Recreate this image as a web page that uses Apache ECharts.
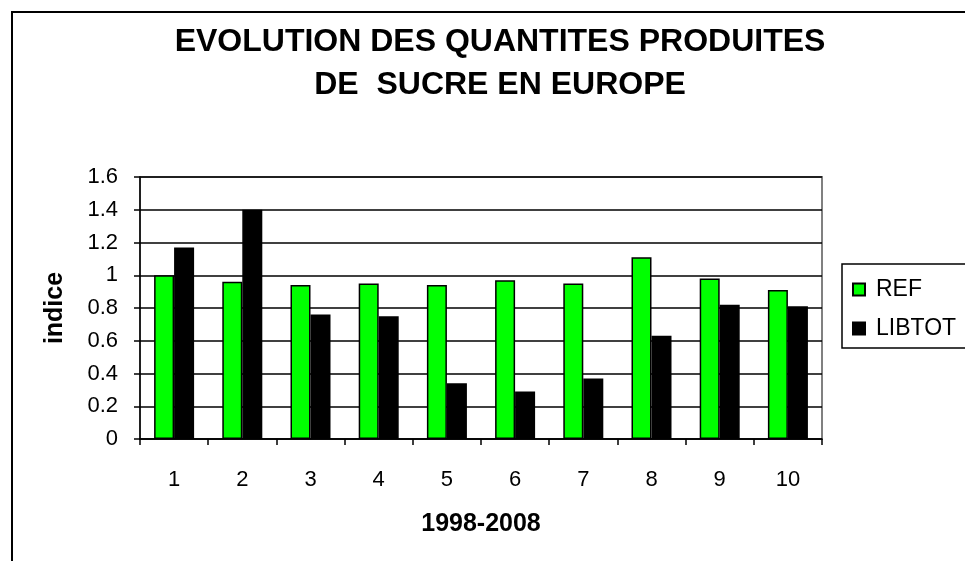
<!DOCTYPE html>
<html lang="fr">
<head>
    <meta charset="UTF-8">
    <title>Sucre Europe</title>
    <script type="text/javascript" src="https://cdn.jsdelivr.net/npm/echarts@6/dist/echarts.min.js"></script>
    <style>
        body { margin: 0; background: #fff; }
    </style>
</head>
<body>
<div id="main" style="width:965px;height:561px;"></div>
<script>
    // donnees
    const years = ['1', '2', '3', '4', '5', '6', '7', '8', '9', '10'];
    const refValues = [1.00, 0.96, 0.94, 0.95, 0.94, 0.97, 0.95, 1.11, 0.98, 0.91];
    const libtotValues = [1.17, 1.40, 0.76, 0.75, 0.34, 0.29, 0.37, 0.63, 0.82, 0.81];

    const font = '"Liberation Sans", Arial, sans-serif';
    let myChart = echarts.init(document.getElementById('main'));

    let option = {
        backgroundColor: '#fff',
        animation: false,
        textStyle: { fontFamily: font },
        title: {
            text: 'EVOLUTION DES QUANTITES PRODUITES\nDE  SUCRE EN EUROPE',
            left: 495,
            textAlign: 'center',
            top: 16,
            textStyle: {
                color: '#000',
                fontSize: 32,
                fontWeight: 'bold',
                lineHeight: 43,
                fontFamily: font
            }
        },
        graphic: [{
            type: 'rect',
            shape: { x: 12, y: 12, width: 1000, height: 600 },
            style: { fill: 'none', stroke: '#000', lineWidth: 2 },
            silent: true
        }],
        legend: {
            orient: 'vertical',
            left: 842,
            top: 264,
            padding: [14, 30, 8, 10],
            itemGap: 16,
            itemWidth: 12,
            itemHeight: 12,
            icon: 'rect',
            borderColor: '#000',
            borderWidth: 1.5,
            textStyle: { color: '#000', fontSize: 23, fontFamily: font, padding: [0, 0, 0, 6] },
            data: ['REF', 'LIBTOT']
        },
        grid: {
            left: 140,
            right: 143,
            top: 177,
            bottom: 122,
            show: true,
            borderColor: '#808080',
            borderWidth: 2,
            containLabel: false
        },
        xAxis: {
            type: 'category',
            data: years,
            name: '1998-2008',
            nameLocation: 'middle',
            nameGap: 73,
            nameTextStyle: { color: '#000', fontSize: 25, fontWeight: 'bold', fontFamily: font },
            axisLine: { lineStyle: { color: '#000', width: 1.5 } },
            axisTick: { show: true, length: 6, lineStyle: { color: '#000', width: 1.5 } },
            axisLabel: { color: '#000', fontSize: 22, margin: 30, fontFamily: font },
            splitLine: { show: false }
        },
        yAxis: {
            type: 'value',
            min: 0,
            max: 1.6,
            interval: 0.2,
            name: 'indice',
            nameLocation: 'middle',
            nameGap: 72,
            nameRotate: 90,
            nameTextStyle: { color: '#000', fontSize: 25, fontWeight: 'bold', fontFamily: font },
            axisLine: { show: true, lineStyle: { color: '#000', width: 1.5 } },
            axisTick: { show: true, length: 6, lineStyle: { color: '#000', width: 1.5 } },
            axisLabel: {
                color: '#000',
                fontSize: 22,
                margin: 22,
                fontFamily: font,
                formatter: v => String(Math.round(v * 10) / 10)
            },
            splitLine: { show: true, lineStyle: { color: '#000', width: 1.5 } }
        },
        series: [
            {
                name: 'REF',
                type: 'bar',
                data: refValues,
                barWidth: 20,
                barGap: '0%',
                itemStyle: { color: '#00ff00', borderColor: '#000', borderWidth: 1.5 }
            },
            {
                name: 'LIBTOT',
                type: 'bar',
                data: libtotValues,
                barWidth: 20,
                barGap: '0%',
                itemStyle: { color: '#000', borderColor: '#000', borderWidth: 1.5 }
            }
        ]
    };

    myChart.setOption(option);
</script>
</body>
</html>
